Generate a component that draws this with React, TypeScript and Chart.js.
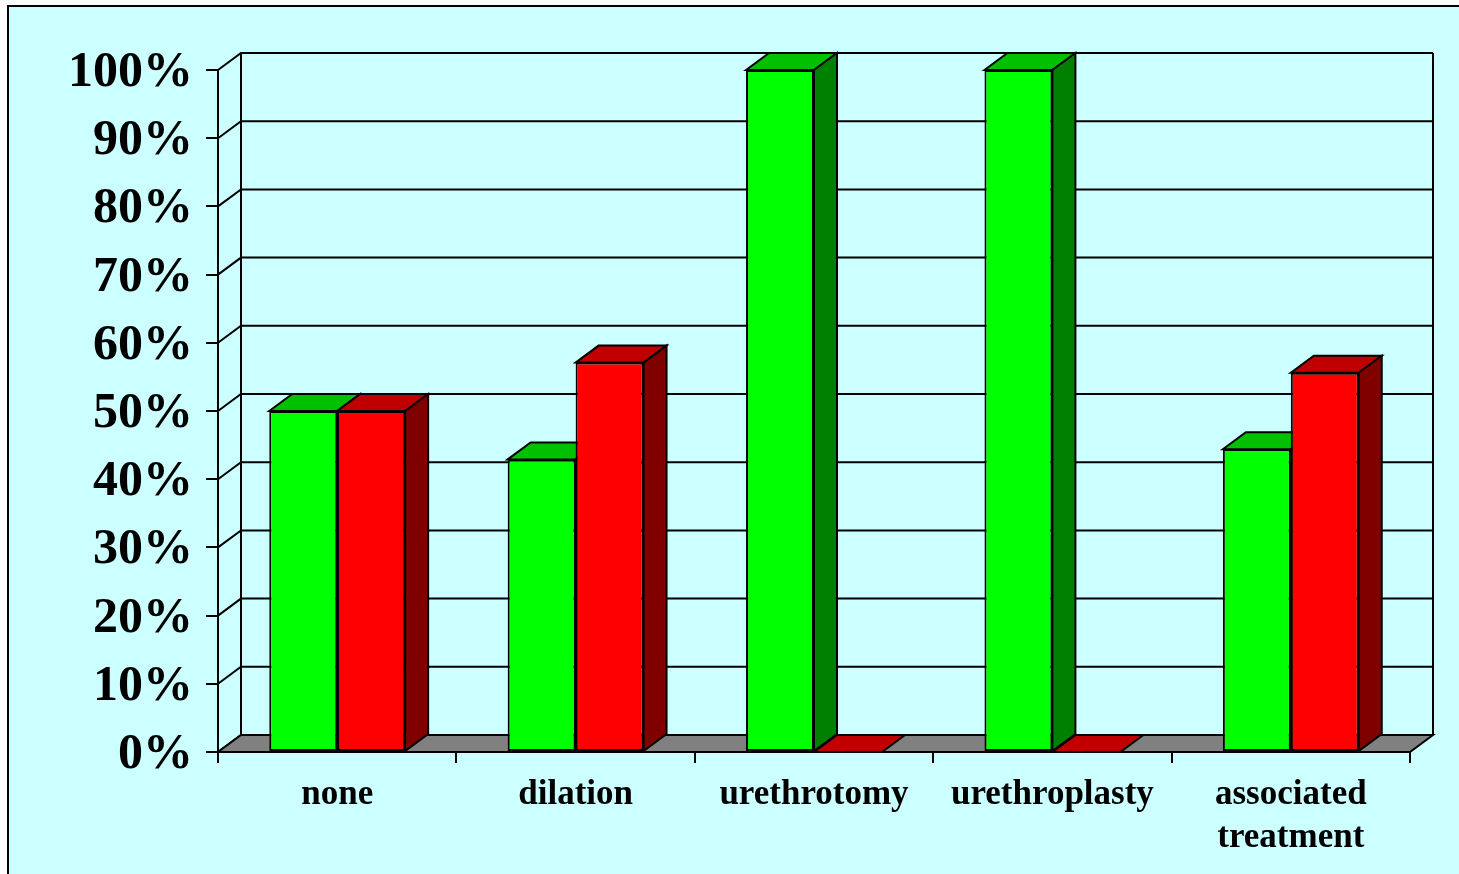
import React, { useEffect, useRef } from "react";
import { Chart, registerables } from "chart.js";

Chart.register(...registerables);

// ---- data ----
const categories: (string | string[])[] = [
  "none",
  "dilation",
  "urethrotomy",
  "urethroplasty",
  ["associated", "treatment"],
];
const greenValues = [50, 42.9, 100, 100, 44.4];
const redValues = [50, 57.1, 0, 0, 55.6];
const yTickValues = [0, 10, 20, 30, 40, 50, 60, 70, 80, 90, 100];

// ---- styling ----
const DX = 23;
const DY = -17;
const FONT = "'Liberation Serif', 'Times New Roman', serif";
const faces = [
  { front: "#00FF00", top: "#00C000", side: "#008000" },
  { front: "#FF0000", top: "#C00000", side: "#800000" },
];

const threeDPlugin = {
  id: "threeD",
  beforeDatasetsDraw(chart: any) {
    const ctx: CanvasRenderingContext2D = chart.ctx;
    const ys = chart.scales.y;
    const { left, right } = chart.chartArea;
    const y0 = ys.getPixelForValue(0);
    const y100 = ys.getPixelForValue(100);
    ctx.save();
    ctx.lineWidth = 2;
    ctx.strokeStyle = "#000";
    ctx.lineJoin = "miter";
    // back wall + left wall gridlines
    for (const v of yTickValues) {
      const py = ys.getPixelForValue(v);
      ctx.beginPath();
      ctx.moveTo(left, py);
      ctx.lineTo(left + DX, py + DY);
      ctx.lineTo(right + DX, py + DY);
      ctx.stroke();
    }
    // back wall verticals
    ctx.beginPath();
    ctx.moveTo(left + DX, y0 + DY);
    ctx.lineTo(left + DX, y100 + DY);
    ctx.moveTo(right + DX, y0 + DY);
    ctx.lineTo(right + DX, y100 + DY);
    ctx.stroke();
    // floor
    ctx.beginPath();
    ctx.moveTo(left, y0);
    ctx.lineTo(right, y0);
    ctx.lineTo(right + DX, y0 + DY);
    ctx.lineTo(left + DX, y0 + DY);
    ctx.closePath();
    ctx.fillStyle = "#808080";
    ctx.fill();
    ctx.stroke();
    // bar top and side faces
    chart.data.datasets.forEach((_ds: any, di: number) => {
      const meta = chart.getDatasetMeta(di);
      const col = faces[di];
      meta.data.forEach((bar: any) => {
        const p = bar.getProps(["x", "y", "base", "width"], true);
        const x0 = p.x - p.width / 2;
        const x1 = p.x + p.width / 2;
        const top = p.y;
        const base = p.base;
        // top face
        ctx.beginPath();
        ctx.moveTo(x0, top);
        ctx.lineTo(x0 + DX, top + DY);
        ctx.lineTo(x1 + DX, top + DY);
        ctx.lineTo(x1, top);
        ctx.closePath();
        ctx.fillStyle = col.top;
        ctx.fill();
        ctx.stroke();
        // side face
        if (base - top > 0.5) {
          ctx.beginPath();
          ctx.moveTo(x1, top);
          ctx.lineTo(x1 + DX, top + DY);
          ctx.lineTo(x1 + DX, base + DY);
          ctx.lineTo(x1, base);
          ctx.closePath();
          ctx.fillStyle = col.side;
          ctx.fill();
          ctx.stroke();
        }
      });
    });
    ctx.restore();
  },
};

export default function App() {
  const canvasRef = useRef<HTMLCanvasElement | null>(null);

  useEffect(() => {
    if (!canvasRef.current) return;
    const chart = new Chart(canvasRef.current, {
      type: "bar",
      data: {
        labels: categories,
        datasets: [
          {
            label: "green",
            data: greenValues,
            backgroundColor: faces[0].front,
            borderColor: "#000",
            borderWidth: 2,
            borderSkipped: false,
            categoryPercentage: 0.57,
            barPercentage: 1,
          },
          {
            label: "red",
            data: redValues,
            backgroundColor: faces[1].front,
            borderColor: "#000",
            borderWidth: 2,
            borderSkipped: false,
            categoryPercentage: 0.57,
            barPercentage: 1,
          },
        ],
      },
      options: {
        animation: false,
        responsive: false,
        devicePixelRatio: 1,
        layout: { padding: { left: 0, top: 70, right: 49, bottom: 0 } },
        plugins: {
          legend: { display: false },
          tooltip: { enabled: false },
          title: { display: false },
        },
        scales: {
          x: {
            type: "category",
            offset: true,
            grid: {
              offset: true,
              drawOnChartArea: false,
              drawTicks: true,
              tickLength: 11,
              color: "#000",
              lineWidth: 2,
            },
            border: { display: true, color: "#000", width: 2 },
            ticks: {
              color: "#000",
              padding: 10,
              maxRotation: 0,
              autoSkip: false,
              font: { family: FONT, size: 35, weight: "bold", lineHeight: 1.23 },
            },
            afterFit: (scale: any) => {
              scale.height = 122;
            },
          },
          y: {
            min: 0,
            max: 100,
            afterBuildTicks: (scale: any) => {
              scale.ticks = yTickValues.map((v) => ({ value: v }));
            },
            grid: {
              drawOnChartArea: false,
              drawTicks: true,
              tickLength: 12,
              color: "#000",
              lineWidth: 2,
            },
            border: { display: true, color: "#000", width: 2 },
            ticks: {
              color: "#000",
              padding: 13,
              labelOffset: 3,
              font: { family: FONT, size: 50, weight: "bold" },
              callback: (v: any) => `${v}%`,
            },
            afterFit: (scale: any) => {
              scale.width = 218;
            },
          },
        },
      },
      plugins: [threeDPlugin],
    } as any);
    return () => chart.destroy();
  }, []);

  return (
    <div style={{ position: "absolute", left: 0, top: 0, width: 1459, height: 874, overflow: "hidden" }}>
      <div
        style={{
          position: "absolute",
          left: 7,
          top: 5,
          width: 1452,
          height: 869,
          boxSizing: "border-box",
          borderTop: "2px solid #000",
          borderLeft: "2px solid #000",
          background: "#CCFFFF",
        }}
      />
      <canvas
        ref={canvasRef}
        width={1459}
        height={874}
        style={{ position: "absolute", left: 0, top: 0, width: 1459, height: 874, display: "block" }}
      />
    </div>
  );
}
